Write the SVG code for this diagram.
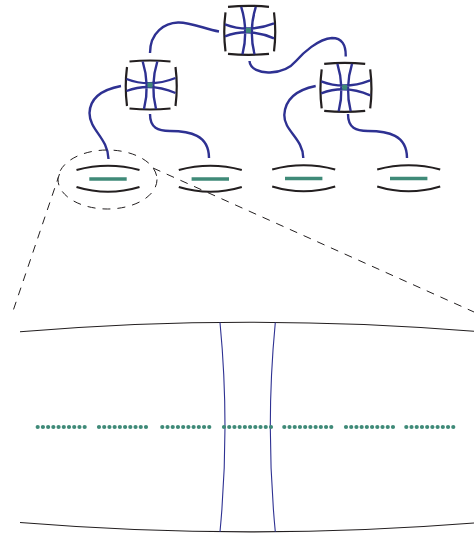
<svg xmlns="http://www.w3.org/2000/svg" width="474" height="534" viewBox="0 0 474 534">
<style>
.k{fill:none;stroke:#231f20;stroke-width:2.2}
.b{fill:none;stroke:#2e3192;stroke-width:2.4}
.g{stroke:#3f8a78;stroke-width:3.4;fill:none}
.d{fill:none;stroke:#231f20;stroke-width:1;stroke-dasharray:8 7}
.t{fill:none;stroke:#231f20;stroke-width:1.1}
.tb{fill:none;stroke:#2e3192;stroke-width:1.1}
.dots{stroke:#3f8a78;stroke-width:4.2;stroke-linecap:round;stroke-dasharray:0 5.22;fill:none}
</style>
<defs>
<g id="sw">
<path class="k" d="M-20.500,-23.500Q0,-25.500 20.500,-23.500M-20.500,23.500Q0,25.500 20.500,23.500M-23,-18Q-25.500,1.500 -23,21M25.500,-18Q28,1.500 25.500,21"/>
<path class="b" d="M-7.300,-23.500Q0,0 -6,24M7.300,-23.500Q0,0 6,24M-23.500,-6Q0,3 25.500,-7M-23.500,6Q0,-3 25.500,8"/>
<rect x="-2.500" y="-2.500" width="5" height="5" fill="#3f8a78"/>
</g>
<g id="lf">
<path class="k" d="M-31.500,-9Q0,-17.500 31.500,-9M-31.500,8Q0,17.500 31.500,8"/>
<path class="g" d="M-18.700,0H18.700"/>
</g>
</defs>
<g id="connectors">
<path class="b" d="M219,31.500C205,29 190,22 178,22.500C165,23 150,32 150,53"/>
<path class="b" d="M249.500,61C250,69 260,73 270,72.500C282,72 291,67 296,61C303,53 318,39 332,38C342,38 346,45 345.700,56.500"/>
<path class="b" d="M121,86C100,90 90,100 89.500,113C89.500,130 108,138 108.500,159"/>
<path class="b" d="M150,114C150,128 158,131 170,131C190,131 209,135 209,158"/>
<path class="b" d="M315.700,86C296,90 285,100 284.300,115C284,131 303,138 303.300,158"/>
<path class="b" d="M348,114C348,128 356,131 368,131C388,131 407,135 407,158"/>
<path class="d" d="M59.500,174L12,314"/>
<path class="d" d="M153,168L474,312"/>
</g>
<g id="n1"><use href="#sw" x="248.500" y="30.300"/></g>
<g id="n2"><use href="#sw" x="150" y="85"/></g>
<g id="n3"><use href="#sw" x="344.700" y="87.300"/></g>
<g id="l1"><use href="#lf" x="108" y="179"/></g>
<g id="l2"><use href="#lf" x="210.300" y="179"/></g>
<g id="l3"><use href="#lf" x="303.700" y="178.500"/></g>
<g id="l4"><use href="#lf" x="408.700" y="178.500"/></g>
<ellipse id="focus" cx="107.500" cy="179.500" rx="49.500" ry="29.500" class="d"/>
<g id="detail">
<path class="t" d="M20,331.700Q247,313 474,331.300"/>
<path class="t" d="M20,522.500Q247,541 474,523"/>
<path class="tb" d="M220,322.500Q230,427 220,531.700"/>
<path class="tb" d="M275.300,322.500Q265.300,427 275.300,531.700"/>
<path class="dots" d="M37.700,427H85"/>
<path class="dots" d="M99,427H146.300"/>
<path class="dots" d="M162.300,427H209.600"/>
<path class="dots" d="M224,427H271.300"/>
<path class="dots" d="M284.300,427H331.600"/>
<path class="dots" d="M346,427H393.300"/>
<path class="dots" d="M406.300,427H453.600"/>
</g>
</svg>
